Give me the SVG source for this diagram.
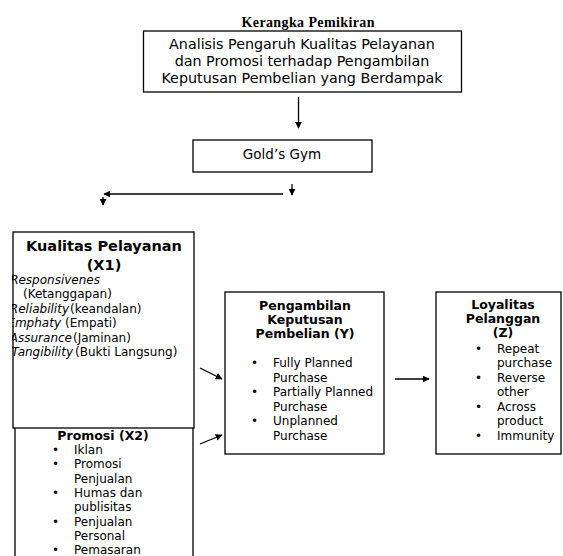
<svg xmlns="http://www.w3.org/2000/svg" width="563" height="556" viewBox="0 0 563 556">
<style>
.box{fill:#fff;stroke:#000;stroke-width:1.3}
.t{font-family:"DejaVu Sans",Verdana,sans-serif;font-size:12px;fill:#000}
.b{font-family:"DejaVu Sans",Verdana,sans-serif;font-size:12.5px;font-weight:bold;fill:#000}
.big{font-size:14.3px}
.kt{font-size:14.5px}
.gg{font-size:13.5px}
.i{font-style:italic}
.c{text-anchor:middle}
.e{text-anchor:end}
.ln{stroke:#000;stroke-width:1.3;fill:none}
</style>
<defs>
<marker id="ah" viewBox="0 0 10 10" refX="9" refY="5" markerWidth="7" markerHeight="7" markerUnits="userSpaceOnUse" orient="auto">
<path d="M0,0 L10,5 L0,10 z" fill="#000"/>
</marker>
<clipPath id="kclip"><rect x="12" y="270" width="185" height="95"/></clipPath>
</defs>

<text x="308" y="27" class="c" font-family="'Liberation Serif','Times New Roman',serif" font-weight="bold" font-size="14" textLength="133">Kerangka Pemikiran</text>

<g id="judul">
<rect class="box" x="143.5" y="31" width="318" height="61"/>
<text class="t big c" x="302" y="49">Analisis Pengaruh Kualitas Pelayanan</text>
<text class="t big c" x="302" y="66">dan Promosi terhadap Pengambilan</text>
<text class="t big c" x="302" y="83">Keputusan Pembelian yang Berdampak</text>
</g>

<g id="golds-gym">
<rect class="box" x="193" y="140" width="179" height="32"/>
<text class="t gg c" x="282" y="159">Gold’s Gym</text>
</g>

<g id="promosi">
<rect class="box" x="15" y="415" width="178" height="160"/>
<text class="b c" x="103" y="440">Promosi (X2)</text>
<g class="t">
<text x="52" y="454">•</text><text x="74" y="454">Iklan</text>
<text x="52" y="468">•</text><text x="74" y="468">Promosi</text>
<text x="74" y="483">Penjualan</text>
<text x="52" y="497">•</text><text x="74" y="497">Humas dan</text>
<text x="74" y="511">publisitas</text>
<text x="52" y="526">•</text><text x="74" y="526">Penjualan</text>
<text x="74" y="540">Personal</text>
<text x="52" y="554">•</text><text x="74" y="554">Pemasaran</text>
</g>
</g>

<g id="kualitas-pelayanan">
<rect class="box" x="13" y="232" width="181" height="196"/>
<text class="b kt c" x="104" y="251">Kualitas Pelayanan</text>
<text class="b kt c" x="104" y="270">(X1)</text>
<g clip-path="url(#kclip)" class="t">
<text class="i e" x="100" y="284">Responsivenes</text>
<text x="23" y="298">(Ketanggapan)</text>
<text class="i e" x="69" y="313">Reliability</text><text x="70" y="313">(keandalan)</text>
<text class="i e" x="61" y="327">Emphaty</text><text x="65" y="327">(Empati)</text>
<text class="i e" x="72" y="342">Assurance</text><text x="73" y="342">(Jaminan)</text>
<text class="i e" x="73" y="356">Tangibility</text><text x="75" y="356">(Bukti Langsung)</text>
</g>
</g>

<g id="pengambilan-keputusan">
<rect class="box" x="225" y="292" width="159" height="162"/>
<text class="b c" x="305" y="310">Pengambilan</text>
<text class="b c" x="305" y="324">Keputusan</text>
<text class="b c" x="305" y="338">Pembelian (Y)</text>
<g class="t">
<text x="251" y="367">•</text><text x="273" y="367">Fully Planned</text>
<text x="273" y="382">Purchase</text>
<text x="251" y="396">•</text><text x="273" y="396">Partially Planned</text>
<text x="273" y="411">Purchase</text>
<text x="251" y="425">•</text><text x="273" y="425">Unplanned</text>
<text x="273" y="440">Purchase</text>
</g>
</g>

<g id="loyalitas-pelanggan">
<rect class="box" x="436" y="292" width="125" height="162"/>
<text class="b c" x="503" y="309">Loyalitas</text>
<text class="b c" x="503" y="323">Pelanggan</text>
<text class="b c" x="503" y="337">(Z)</text>
<g class="t">
<text x="475" y="353">•</text><text x="497" y="353">Repeat</text>
<text x="497" y="367">purchase</text>
<text x="475" y="382">•</text><text x="497" y="382">Reverse</text>
<text x="497" y="396">other</text>
<text x="475" y="411">•</text><text x="497" y="411">Across</text>
<text x="497" y="425">product</text>
<text x="475" y="440">•</text><text x="497" y="440">Immunity</text>
</g>
</g>

<g id="connectors">
<line class="ln" x1="298.5" y1="97" x2="298.5" y2="128" marker-end="url(#ah)"/>
<line class="ln" x1="292" y1="184" x2="292" y2="195" marker-end="url(#ah)"/>
<line class="ln" x1="283" y1="194" x2="104" y2="194" marker-end="url(#ah)"/>
<line class="ln" x1="103" y1="197" x2="103" y2="205" marker-end="url(#ah)"/>
<line class="ln" x1="200" y1="368" x2="222" y2="379" marker-end="url(#ah)"/>
<line class="ln" x1="200" y1="444" x2="222" y2="435" marker-end="url(#ah)"/>
<line class="ln" x1="395" y1="379" x2="429" y2="379" marker-end="url(#ah)"/>
</g>
</svg>
